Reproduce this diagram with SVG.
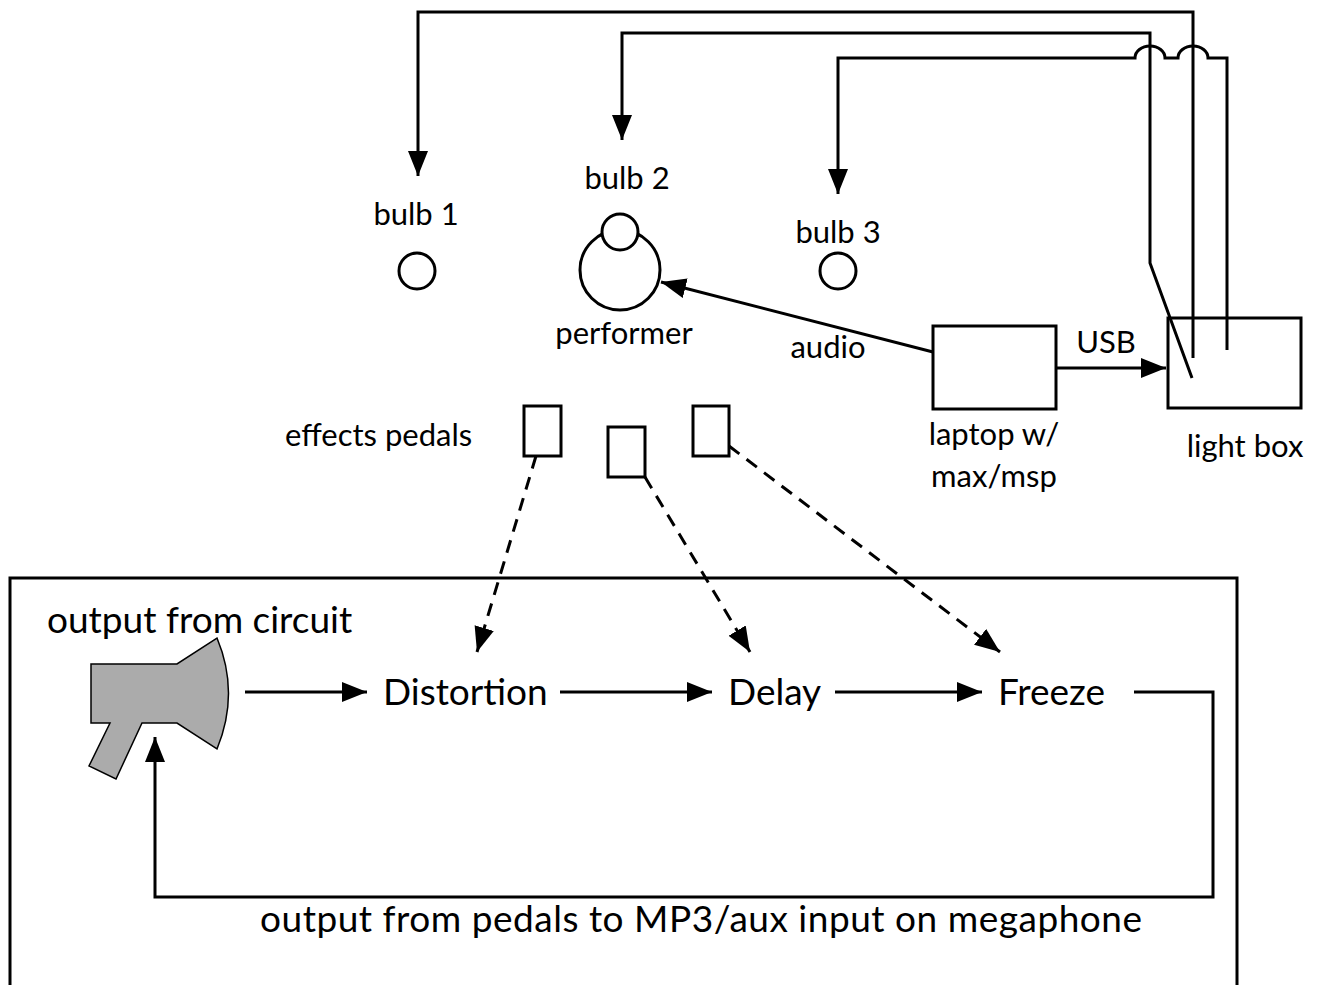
<svg xmlns="http://www.w3.org/2000/svg" width="1322" height="985" viewBox="0 0 1322 985">
<style>
text{font-family:Lato,"Noto Sans","Liberation Sans",sans-serif;fill:#000;font-weight:400}
.s{font-size:31px}
.m{font-size:37px}
.ln{fill:none;stroke:#000;stroke-width:3}
.dash{stroke-dasharray:13 9}
.box{fill:#fff;stroke:#000;stroke-width:3}
</style>
<defs>
<marker id="ah" markerUnits="userSpaceOnUse" markerWidth="26" markerHeight="22" refX="25" refY="10" orient="auto" viewBox="0 0 26 22">
<path d="M0,0 L25,10 L0,20 Z" fill="#000"/>
</marker>
</defs>
<rect id="frame" x="10" y="578" width="1227" height="430" fill="none" stroke="#000" stroke-width="3"/>
<g id="connectors">
<path class="ln" d="M1193,358 V12 H418 V176" marker-end="url(#ah)"/>
<path class="ln" d="M1192,378 L1150,263 V33 H622 V140" marker-end="url(#ah)"/>
<path class="ln" d="M1227,350 V58 H1208 A15,12 0 0 0 1178,58 H1165 A15,12 0 0 0 1135,58 H838 V194" marker-end="url(#ah)"/>
<path class="ln" d="M933,352 L661,282" marker-end="url(#ah)"/>
<path class="ln" d="M1056,368 H1166" marker-end="url(#ah)"/>
<path class="ln dash" d="M536,456 L477,652" marker-end="url(#ah)"/>
<path class="ln dash" d="M645,477 L750,652" marker-end="url(#ah)"/>
<path class="ln dash" d="M729,446 L1000,652" marker-end="url(#ah)"/>
<path class="ln" d="M245,692 H367" marker-end="url(#ah)"/>
<path class="ln" d="M560,692 H712" marker-end="url(#ah)"/>
<path class="ln" d="M835,692 H982" marker-end="url(#ah)"/>
<path class="ln" d="M1134,692 H1213 V897 H155 V737" marker-end="url(#ah)"/>
</g>
<g id="bulb1">
<text class="s" x="416" y="225" text-anchor="middle">bulb 1</text>
<circle cx="417" cy="271" r="18" class="box"/>
</g>
<g id="bulb2">
<text class="s" x="627" y="189" text-anchor="middle">bulb 2</text>
</g>
<g id="performer">
<circle cx="620" cy="270" r="40" class="box"/>
<circle cx="620" cy="232" r="18" class="box"/>
<text class="s" x="624" y="344" text-anchor="middle">performer</text>
</g>
<g id="bulb3">
<text class="s" x="838" y="243" text-anchor="middle">bulb 3</text>
<circle cx="838" cy="271" r="18" class="box"/>
</g>
<g id="audio-label"><text class="s" x="828" y="358" text-anchor="middle">audio</text></g>
<g id="usb-label"><text class="s" x="1106" y="353" text-anchor="middle">USB</text></g>
<g id="laptop">
<rect x="933" y="326" width="123" height="83" class="box"/>
<text class="s" x="994" y="445" text-anchor="middle">laptop w/</text>
<text class="s" x="994" y="487" text-anchor="middle">max/msp</text>
</g>
<g id="lightbox">
<rect x="1168" y="318" width="133" height="90" fill="none" stroke="#000" stroke-width="3"/>
<text class="s" x="1245" y="457" text-anchor="middle">light box</text>
</g>
<g id="pedals">
<text class="s" x="285" y="446">effects pedals</text>
<rect x="524" y="406" width="37" height="50" class="box"/>
<rect x="608" y="427" width="37" height="50" class="box"/>
<rect x="693" y="406" width="36" height="50" class="box"/>
</g>
<g id="megaphone">
<path d="M91,664 H177 L217,638 Q240,693 217,749 L177,723 H142 L116,779 L89,766 L110,723 H91 Z" fill="#ababab" stroke="#000" stroke-width="1.5"/>
<text class="m" x="47" y="633" font-size="35">output from circuit</text>
</g>
<g id="distortion"><text class="m" x="383" y="705">Distortion</text></g>
<g id="delay"><text class="m" x="728" y="705">Delay</text></g>
<g id="freeze"><text class="m" x="998" y="705">Freeze</text></g>
<g id="feedback-label"><text class="m" x="260" y="932" font-size="38" textLength="882" lengthAdjust="spacing">output from pedals to MP3/aux input on megaphone</text></g>
</svg>
